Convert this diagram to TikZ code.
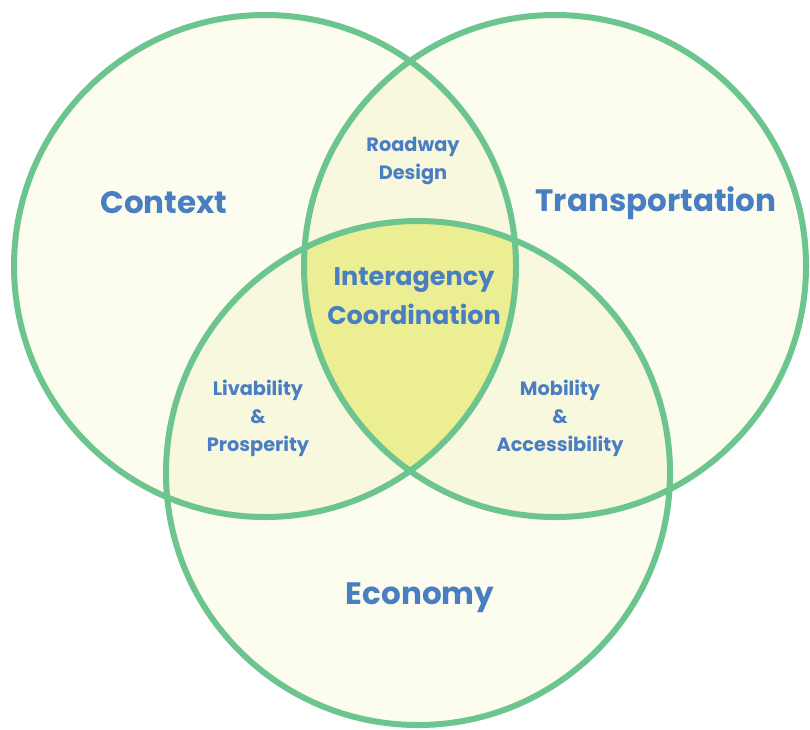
\documentclass[tikz,border=0pt]{standalone}
\usepackage{fontspec}
\setmainfont{Poppins}
\definecolor{ringc}{RGB}{108,196,142}
\definecolor{outerc}{RGB}{252,253,238}
\definecolor{pairc}{RGB}{247,248,222}
\definecolor{corec}{RGB}{235,238,146}
\definecolor{textc}{RGB}{74,126,194}
\tikzset{
  ring/.style={draw=ringc, line width=6pt},
  bigtxt/.style={text=textc, font=\fontsize{31}{36}\selectfont\bfseries, align=center, inner sep=0pt},
  midtxt/.style={text=textc, font=\fontsize{25.5}{39}\selectfont\bfseries, align=center, inner sep=0pt},
  smalltxt/.style={text=textc, font=\fontsize{19.3}{28}\selectfont\bfseries, align=center, inner sep=0pt},
}
\begin{document}
\begin{tikzpicture}[x=1pt,y=-1pt]
\useasboundingbox (0,0) rectangle (810,729);
\def\CL{(265,266) circle[radius=251]}
\def\CR{(555,266) circle[radius=251]}
\def\CB{(418,473) circle[radius=252]}
% base fills
\fill[outerc] \CL;
\fill[outerc] \CR;
\fill[outerc] \CB;
% pairwise overlaps
\begin{scope}\clip \CL; \fill[pairc] \CR; \fill[pairc] \CB;\end{scope}
\begin{scope}\clip \CR; \fill[pairc] \CB;\end{scope}
% triple overlap
\begin{scope}\clip \CL; \clip \CR; \fill[corec] \CB;\end{scope}
% rings
\draw[ring] \CL;
\draw[ring] \CR;
\draw[ring] \CB;
% labels
\node[bigtxt] (context) at (164,203) {Context};
\node[bigtxt] (transport) at (656,203) {Transportation};
\node[bigtxt] (economy) at (420,598) {Economy};
\node[smalltxt] (roadway) at (413,161) {Roadway\\Design};
\node[midtxt] (inter) at (414,296) {Interagency\\Coordination};
\node[smalltxt] (livab) at (258,418) {Livability\\\&\\Prosperity};
\node[smalltxt] (mobil) at (560,418) {Mobility\\\&\\Accessibility};
\end{tikzpicture}
\end{document}
